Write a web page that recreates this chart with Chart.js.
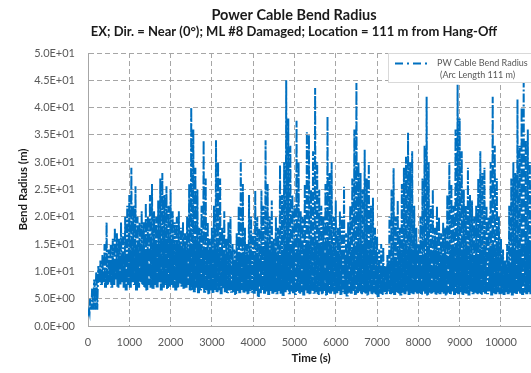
<!DOCTYPE html>
<html>
<head>
<meta charset="utf-8">
<script src="https://cdn.jsdelivr.net/npm/chart.js@4.4.1/dist/chart.umd.min.js"></script>
<style>
  html, body { margin: 0; padding: 0; background: #fff; overflow: hidden; }
  #wrap { width: 588px; height: 373px; }
</style>
</head>
<body>
<div id="wrap"><canvas id="myChart" width="588" height="373"></canvas></div>
<script>
// chart text
const chartTitle = "Power Cable Bend Radius";
const chartSubtitle = "EX; Dir. = Near (0\u00b0); ML #8 Damaged; Location = 111 m from Hang-Off";
const seriesLabel = ["PW Cable Bend Radius", "(Arc Length 111 m)"];

// time sampling (s)
const binStep = 50;
const coreStep = 250;
const xTicks = [0, 1000, 2000, 3000, 4000, 5000, 6000, 7000, 8000, 9000, 10000];
const yTicks = [0, 5, 10, 15, 20, 25, 30, 35, 40, 45, 50];

// bend radius: highest value in each 50 s bin (m)
const upper = [
    3, 5, 7, 8.5, 10, 11, 12, 13, 15, 19,
    14, 15, 16, 18, 17, 16, 19, 17, 20, 22,
    24, 29, 22, 25.6, 20, 19, 21, 19, 22.5, 20,
    24, 26, 21, 20, 23, 27, 28, 24, 25.6, 22,
    25, 21, 19, 20, 21, 18, 19, 17, 20, 26,
    40, 36, 29, 25, 18, 22, 34, 27, 19, 16,
    18, 22, 34, 30, 27, 18, 21, 16, 19, 20,
    15, 14, 17, 22, 30.5, 26, 18, 15, 24, 20,
    17, 24.8, 20, 18, 24.8, 22, 34, 26, 20, 23,
    16, 20, 18, 29.5, 24, 30, 45, 38, 33, 24,
    22, 37.6, 30, 21, 20, 26, 35.5, 35, 25, 32,
    43.6, 30, 25, 22, 20, 26, 38.4, 28, 30, 20,
    23, 18, 21, 20, 25.5, 17, 19, 22, 27, 36,
    44.5, 30, 28, 25, 32.3, 27, 30, 22, 23.5, 18,
    16.5, 14, 15, 14.4, 11, 13, 20, 25, 28.9, 20,
    23, 18, 26, 29, 31, 35.4, 30, 32, 22, 18,
    15, 20, 27, 33, 42, 30, 22, 25, 18, 22,
    20, 17, 19, 18, 24, 29.9, 26, 22, 36, 44.2,
    38, 32, 25, 22, 29, 24, 23, 20, 22, 27,
    32, 28, 29, 22, 20, 30, 42, 33, 27, 20,
    16, 14, 12, 15, 22, 27, 30, 28, 41.5, 33,
    40, 44.5, 34, 36, 30, 26
];

// lowest value in each 50 s bin (m)
const lower = [
    2.5, 4, 6, 7, 7.5, 8, 7.5, 8, 7, 7.5,
    8, 7, 7.5, 8.5, 7, 7.5, 8, 7, 6.5, 7.5,
    7, 8, 7.5, 6.5, 7, 8, 7.5, 7, 6.5, 7.5,
    7, 6.8, 7.5, 7, 8, 6.5, 7, 7.5, 6.8, 7.2,
    7.5, 7, 6.5, 7, 7.8, 7.2, 6.8, 7, 7.5, 6.5,
    6.6, 6.2, 7, 6, 6.5, 6.9, 6.1, 6.5, 5.8, 6.5,
    6, 6.6, 6.2, 6.5, 5.8, 6.9, 6.2, 6, 6.5, 6.1,
    6.2, 5.7, 6.4, 6, 6.6, 6.1, 6.3, 5.8, 6.4, 6.1,
    5.9, 6.4, 5.3, 6, 6.5, 5.9, 6.3, 5.7, 6.4, 5.9,
    6.2, 5.8, 6.4, 5.9, 5.5, 6.2, 6.6, 5.8, 6.3, 6,
    5.7, 6.4, 5.9, 6.2, 5.6, 6.5, 6, 5.8, 6.4, 5.9,
    6.2, 5.7, 6.3, 5.8, 6.4, 5.6, 6.1, 5.9, 6.3, 5.8,
    6, 6.4, 5.7, 6.2, 5.8, 5.4, 6.1, 5.9, 6.4, 5.7,
    6, 6.3, 5.8, 6.2, 5.9, 5.6, 6.3, 5.8, 6.1, 5.7,
    5.3, 5.9, 5.7, 6.2, 5.8, 6.3, 5.8, 6, 5.7, 6.2,
    5.9, 5.6, 6.1, 5.8, 6.3, 5.7, 6, 5.8, 6.2, 5.8,
    6, 5.7, 6.3, 5.9, 5.6, 6.1, 5.8, 6.2, 5.7, 6,
    5.8, 6.2, 5.9, 5.6, 6.1, 5.8, 6.3, 5.7, 6, 5.8,
    6.2, 5.7, 6, 5.9, 5.6, 6.3, 5.8, 6.1, 5.8, 6,
    5.7, 6.2, 5.9, 5.8, 6.3, 5.6, 6, 5.8, 6.2, 5.8,
    5.9, 5.7, 6.2, 5.8, 6.1, 5.6, 6, 5.8, 6.3, 5.9,
    5.7, 6.1, 5.8, 6.2, 5.8, 6
];

// top of the dense band, one value per 250 s (m)
const core = [
    3, 10, 12, 13, 14, 14, 15, 16, 15, 14, 15,
    14, 14, 13, 12, 13, 13, 14, 13, 15, 14, 15,
    15, 14, 13, 14, 15, 14, 11, 12, 14, 14, 13,
    14, 13, 14, 14, 13, 14, 14, 11, 14, 15, 14
];

const blue = '#0070c0';
const lineDash = [9, 2, 2, 2];

// each 50 s bin: its high, its low, the band top, its low again
const points = [];
upper.forEach(function(v, i) {
    const t = i * binStep;
    const c = core[Math.floor(t / coreStep)];
    points.push({ x: t, y: v });
    points.push({ x: t + binStep / 4, y: lower[i] });
    points.push({ x: t + binStep / 2, y: c });
    points.push({ x: t + 3 * binStep / 4, y: lower[i] });
});

function sci(v) {
    if (v === 0) return '0.0E+00';
    const e = Math.floor(Math.log10(Math.abs(v)) + 1e-9);
    const m = v / Math.pow(10, e);
    return m.toFixed(1) + 'E' + (e < 0 ? '-' : '+') + String(Math.abs(e)).padStart(2, '0');
}

const titlePlugin = {
    id: 'titles',
    afterDraw: function(chart) {
        const ctx = chart.ctx;
        ctx.save();
        ctx.fillStyle = '#1a1a1a';
        ctx.textAlign = 'center';
        ctx.textBaseline = 'middle';
        ctx.font = 'bold 14.5px Lato';
        ctx.fillText(chartTitle, 294, 15);
        ctx.font = 'bold 13px Lato';
        ctx.fillText(chartSubtitle, 294, 32);
        ctx.restore();
    }
};

const legendPlugin = {
    id: 'boxLegend',
    afterDatasetsDraw: function(chart) {
        const ctx = chart.ctx;
        const ds = chart.data.datasets[0];
        ctx.save();
        ctx.fillStyle = '#ffffff';
        ctx.strokeStyle = '#d9d9d9';
        ctx.lineWidth = 1;
        ctx.fillRect(388, 53, 190, 29);
        ctx.strokeRect(388.5, 53.5, 190, 29);
        ctx.strokeStyle = ds.borderColor;
        ctx.lineWidth = 2;
        ctx.setLineDash([8, 4, 2, 4]);
        ctx.beginPath();
        ctx.moveTo(395, 63.5);
        ctx.lineTo(428, 63.5);
        ctx.stroke();
        ctx.setLineDash([]);
        ctx.fillStyle = '#595959';
        ctx.font = '9px Lato';
        ctx.textAlign = 'left';
        ctx.textBaseline = 'middle';
        ctx.fillText(seriesLabel[0], 437, 63);
        ctx.fillText(seriesLabel[1], 440, 75);
        ctx.restore();
    }
};

const ctx = document.getElementById('myChart').getContext('2d');
const myChart = new Chart(ctx, {
    type: 'line',
    data: {
        datasets: [{
            label: seriesLabel.join(' '),
            data: points,
            borderColor: blue,
            backgroundColor: 'transparent',
            borderWidth: 2,
            borderDash: lineDash,
            pointRadius: 0,
            tension: 0
        }]
    },
    options: {
        responsive: false,
        animation: false,
        events: [],
        layout: { padding: { top: 53, right: 54, bottom: 0, left: 12 } },
        plugins: {
            legend: { display: false },
            title: { display: false },
            tooltip: { enabled: false }
        },
        scales: {
            x: {
                type: 'linear',
                min: 0,
                max: 10800,
                afterFit: function(s) { s.height = 47; },
                afterBuildTicks: function(s) { s.ticks = xTicks.map(function(v) { return { value: v }; }); },
                ticks: {
                    padding: 10, color: '#595959', font: { family: 'Lato', size: 11 },
                    callback: function(v) { return String(v); }
                },
                grid: { color: '#a6a6a6', drawTicks: false },
                border: { display: true, color: '#a6a6a6', dash: [5, 3] },
                title: {
                    display: true, text: 'Time (s)', color: '#1a1a1a',
                    font: { family: 'Lato', size: 11.5, weight: 'bold' },
                    padding: { top: 2, bottom: 8 }
                }
            },
            y: {
                min: 0,
                max: 50,
                afterFit: function(s) { s.width = 76; },
                afterBuildTicks: function(s) { s.ticks = yTicks.map(function(v) { return { value: v }; }); },
                ticks: {
                    padding: 13, color: '#595959', font: { family: 'Lato', size: 11 },
                    callback: function(v) { return sci(v); }
                },
                grid: { color: '#a6a6a6', drawTicks: false },
                border: { display: true, color: '#a6a6a6', dash: [5, 3] },
                title: {
                    display: true, text: 'Bend Radius (m)', color: '#1a1a1a',
                    font: { family: 'Lato', size: 11.5, weight: 'bold' },
                    padding: { top: 4, bottom: 4 }
                }
            }
        }
    },
    plugins: [titlePlugin, legendPlugin]
});
</script>
</body>
</html>
